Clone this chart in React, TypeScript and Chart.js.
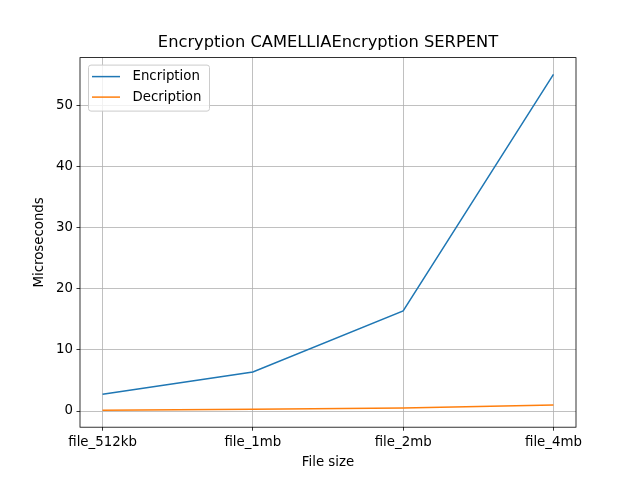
import React, { useEffect, useRef } from "react";
import { Chart, registerables } from "chart.js";

Chart.register(...registerables);

const categories = ["file_512kb", "file_1mb", "file_2mb", "file_4mb"];
const encription = [2.75, 6.4, 16.4, 55.1];
const decription = [0.12, 0.27, 0.5, 1.0];
const yTicks = [0, 10, 20, 30, 40, 50];
const chartTitle = "Encryption CAMELLIAEncryption SERPENT";
const xTitle = "File size";
const yTitle = "Microseconds";

const FONT = "DejaVu Sans";

const framePlugin = {
  id: "frameAndLegend",
  afterDraw(chart: any) {
    const { ctx, chartArea } = chart;
    ctx.save();
    ctx.strokeStyle = "#000000";
    ctx.lineWidth = 0.8;
    ctx.strokeRect(chartArea.left, chartArea.top, chartArea.right - chartArea.left, chartArea.bottom - chartArea.top);
    // legend
    const lx = chartArea.left + 8.5;
    const ly = chartArea.top + 7.5;
    const w = 121;
    const h = 46;
    ctx.beginPath();
    if (ctx.roundRect) ctx.roundRect(lx, ly, w, h, 2.5);
    else ctx.rect(lx, ly, w, h);
    ctx.fillStyle = "rgba(255,255,255,0.8)";
    ctx.fill();
    ctx.strokeStyle = "#cccccc";
    ctx.lineWidth = 1;
    ctx.stroke();
    chart.data.datasets.forEach((ds: any, i: number) => {
      const y = ly + 11.5 + i * 20.5;
      ctx.beginPath();
      ctx.moveTo(lx + 3.5, y);
      ctx.lineTo(lx + 31.5, y);
      ctx.strokeStyle = ds.borderColor;
      ctx.lineWidth = 1.5;
      ctx.stroke();
      ctx.fillStyle = "#000000";
      ctx.font = `13.33px "${FONT}"`;
      ctx.textBaseline = "middle";
      ctx.textAlign = "left";
      ctx.fillText(ds.label, lx + 44, y);
    });
    ctx.restore();
  },
};

export default function App() {
  const ref = useRef<HTMLCanvasElement>(null);
  useEffect(() => {
    if (!ref.current) return;
    const chart = new Chart(ref.current, {
      type: "line",
      data: {
        datasets: [
          {
            label: "Encription",
            data: encription.map((v, i) => ({ x: i, y: v })),
            borderColor: "#1f77b4",
            backgroundColor: "#1f77b4",
            borderWidth: 1.5,
            pointRadius: 0,
            tension: 0,
          },
          {
            label: "Decription",
            data: decription.map((v, i) => ({ x: i, y: v })),
            borderColor: "#ff7f0e",
            backgroundColor: "#ff7f0e",
            borderWidth: 1.5,
            pointRadius: 0,
            tension: 0,
          },
        ],
      },
      options: {
        animation: false,
        responsive: false,
        devicePixelRatio: 1,
        layout: { padding: { left: 0, right: 64, top: 0, bottom: 0 } },
        font: { family: FONT },
        plugins: {
          legend: { display: false },
          tooltip: { enabled: false },
          title: {
            display: true,
            fullSize: false,
            text: chartTitle,
            color: "#000000",
            font: { family: FONT, size: 16.3, weight: "normal", lineHeight: 1.178 },
            padding: { top: 33.4, bottom: 5 },
          },
        },
        scales: {
          x: {
            type: "linear",
            min: -0.15,
            max: 3.15,
            afterBuildTicks: (scale: any) => {
              scale.ticks = categories.map((_, i) => ({ value: i }));
            },
            afterFit: (scale: any) => {
              scale.height = 52.8;
            },
            ticks: {
              color: "#000000",
              font: { family: FONT, size: 13.33 },
              padding: 3.5,
              maxRotation: 0,
              autoSkip: false,
              callback: (v: any) => categories[v as number] ?? "",
            },
            grid: {
              color: "#b0b0b0",
              lineWidth: 0.8,
              tickColor: "#000000",
              tickLength: 3.5,
              drawTicks: true,
            },
            border: { display: false },
            title: {
              display: true,
              text: xTitle,
              color: "#000000",
              font: { family: FONT, size: 13.33 },
              padding: { top: 0, bottom: 9 },
            },
          },
          y: {
            type: "linear",
            min: -2.65,
            max: 57.85,
            afterBuildTicks: (scale: any) => {
              scale.ticks = yTicks.map((v) => ({ value: v }));
            },
            afterFit: (scale: any) => {
              scale.width = 80;
            },
            ticks: {
              color: "#000000",
              font: { family: FONT, size: 13.33 },
              padding: 3.5,
              autoSkip: false,
              callback: (v: any) => String(v),
            },
            grid: {
              color: "#b0b0b0",
              lineWidth: 0.8,
              tickColor: "#000000",
              tickLength: 3.5,
              drawTicks: true,
            },
            border: { display: false },
            title: {
              display: true,
              text: yTitle,
              color: "#000000",
              font: { family: FONT, size: 13.33 },
              padding: { top: 32, bottom: 32 },
            },
          },
        },
      },
      plugins: [framePlugin],
    } as any);
    return () => chart.destroy();
  }, []);
  return (
    <div style={{ position: "fixed", left: 0, top: 0, width: 640, height: 480, background: "#ffffff" }}>
      <canvas ref={ref} width={640} height={480} style={{ width: 640, height: 480, display: "block" }} />
    </div>
  );
}
